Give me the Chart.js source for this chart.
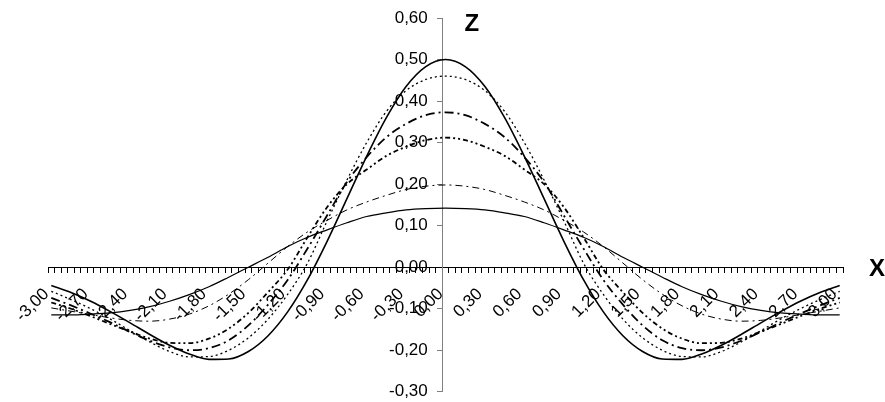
<!DOCTYPE html>
<html lang="ru">
<head>
  <meta charset="UTF-8">
  <meta name="viewport" content="width=device-width, initial-scale=1.0">
  <title>Z(X)</title>
  <style>
    html, body { margin: 0; padding: 0; background: #fff; }
    .chart-box { position: relative; width: 885px; height: 402px; }
  </style>
</head>
<body>
  <div class="chart-box">
    <canvas id="zChart"></canvas>
  </div>

  <script src="https://cdn.jsdelivr.net/npm/chart.js"></script>
  <script>
    // Data, one point every 0.15 along X
    const xPoints = [
      -3.00, -2.85, -2.70, -2.55, -2.40, -2.25, -2.10, -1.95, -1.80, -1.65, -1.50,
      -1.35, -1.20, -1.05, -0.90, -0.75, -0.60, -0.45, -0.30, -0.15, 0.00,
      0.15, 0.30, 0.45, 0.60, 0.75, 0.90, 1.05, 1.20, 1.35, 1.50,
      1.65, 1.80, 1.95, 2.10, 2.25, 2.40, 2.55, 2.70, 2.85, 3.00
    ];

    // solid, peak 0,50
    const zSolidHigh = [
      -0.044, -0.061, -0.082, -0.107, -0.134, -0.162, -0.188, -0.209, -0.222, -0.221, -0.203,
      -0.165, -0.107, -0.030, 0.063, 0.165, 0.267, 0.360, 0.435, 0.483, 0.500,
      0.483, 0.435, 0.360, 0.267, 0.165, 0.063, -0.030, -0.107, -0.165, -0.203,
      -0.221, -0.222, -0.209, -0.188, -0.162, -0.134, -0.107, -0.082, -0.061, -0.044
    ];

    // dotted, peak 0,46
    const zDotted = [
      -0.058, -0.078, -0.100, -0.125, -0.153, -0.180, -0.203, -0.216, -0.215, -0.200, -0.170,
      -0.125, -0.065, 0.010, 0.112, 0.210, 0.300, 0.375, 0.425, 0.452, 0.460,
      0.452, 0.425, 0.375, 0.300, 0.210, 0.112, 0.010, -0.065, -0.125, -0.170,
      -0.200, -0.215, -0.216, -0.203, -0.180, -0.153, -0.125, -0.100, -0.078, -0.058
    ];

    // long dash - dot, peak 0,37
    const zDashDot = [
      -0.074, -0.092, -0.112, -0.133, -0.156, -0.177, -0.193, -0.200, -0.195, -0.176, -0.140,
      -0.090, -0.030, 0.045, 0.125, 0.205, 0.265, 0.313, 0.345, 0.366, 0.373,
      0.366, 0.345, 0.313, 0.265, 0.205, 0.125, 0.045, -0.030, -0.090, -0.140,
      -0.176, -0.195, -0.200, -0.193, -0.177, -0.156, -0.133, -0.112, -0.092, -0.074
    ];

    // dash - dot - dot, peak 0,31
    const zDashDotDot = [
      -0.085, -0.100, -0.118, -0.137, -0.155, -0.172, -0.182, -0.183, -0.172, -0.148, -0.110,
      -0.060, -0.005, 0.072, 0.145, 0.200, 0.235, 0.268, 0.290, 0.306, 0.312,
      0.306, 0.290, 0.268, 0.235, 0.200, 0.145, 0.072, -0.005, -0.060, -0.110,
      -0.148, -0.172, -0.183, -0.182, -0.172, -0.155, -0.137, -0.118, -0.100, -0.085
    ];

    // thin dash - dot, peak 0,20
    const zThinDashDot = [
      -0.098, -0.106, -0.114, -0.122, -0.128, -0.130, -0.125, -0.113, -0.093, -0.065, -0.030,
      0.010, 0.050, 0.085, 0.113, 0.138, 0.157, 0.173, 0.187, 0.195, 0.198,
      0.195, 0.187, 0.173, 0.157, 0.138, 0.113, 0.085, 0.050, 0.010, -0.030,
      -0.065, -0.093, -0.113, -0.125, -0.130, -0.128, -0.122, -0.114, -0.106, -0.098
    ];

    // thin solid, peak 0,14
    const zSolidLow = [
      -0.115, -0.115, -0.113, -0.110, -0.104, -0.095, -0.082, -0.066, -0.047, -0.024, 0.000,
      0.024, 0.050, 0.072, 0.090, 0.107, 0.122, 0.131, 0.138, 0.141, 0.142,
      0.141, 0.138, 0.131, 0.122, 0.107, 0.090, 0.072, 0.050, 0.024, 0.000,
      -0.024, -0.047, -0.066, -0.082, -0.095, -0.104, -0.110, -0.113, -0.115, -0.115
    ];

    const xLabelValues = [
      -3.00, -2.70, -2.40, -2.10, -1.80, -1.50, -1.20, -0.90, -0.60, -0.30, 0.00,
      0.30, 0.60, 0.90, 1.20, 1.50, 1.80, 2.10, 2.40, 2.70, 3.00
    ];
    const yLabelValues = [-0.30, -0.20, -0.10, 0.00, 0.10, 0.20, 0.30, 0.40, 0.50, 0.60];

    // small tick marks on the X axis, one every 0.05
    const xMinorTicks = [];
    for (let i = -60; i <= 60; i++) xMinorTicks.push(i * 0.05);

    const fmt = v => (Math.round(v * 100) / 100).toFixed(2).replace('.', ',');
    const labelFont = { family: '"Liberation Sans", Arial, sans-serif', size: 17 };

    const series = [
      { data: zSolidHigh, width: 1.6, dash: [] },
      { data: zDotted, width: 1.3, dash: [2, 3] },
      { data: zDashDot, width: 1.8, dash: [9, 4, 2, 4] },
      { data: zDashDotDot, width: 1.8, dash: [5, 3, 2, 3, 2, 3] },
      { data: zThinDashDot, width: 1, dash: [7, 4, 2, 4] },
      { data: zSolidLow, width: 1.2, dash: [] }
    ];

    const datasets = series.map(s => ({
      data: xPoints.map((x, i) => ({ x: x, y: s.data[i] })),
      borderColor: '#000',
      borderWidth: s.width,
      borderDash: s.dash,
      pointRadius: 0,
      pointHoverRadius: 0,
      cubicInterpolationMode: 'monotone',
      fill: false
    }));

    // "Z" and "X" next to the axes
    const axisLetters = {
      id: 'axisLetters',
      afterDraw(chart) {
        const { ctx, scales: { x, y }, chartArea } = chart;
        ctx.save();
        ctx.font = 'bold 24px "Liberation Sans", Arial, sans-serif';
        ctx.fillStyle = '#000';
        ctx.textAlign = 'center';
        ctx.textBaseline = 'middle';
        ctx.fillText('Z', x.getPixelForValue(0.2), y.getPixelForValue(0.584));
        ctx.fillText('X', chartArea.right + 34, y.getPixelForValue(0) + 2);
        ctx.restore();
      }
    };

    new Chart(document.getElementById('zChart'), {
      type: 'line',
      data: { datasets: datasets },
      options: {
        responsive: true,
        maintainAspectRatio: false,
        animation: false,
        events: [],
        layout: { padding: { left: 48, right: 42, top: 18, bottom: 10 } },
        plugins: {
          legend: { display: false },
          tooltip: { enabled: false }
        },
        scales: {
          x: {
            type: 'linear',
            min: -3.025,
            max: 3.025,
            position: { y: 0 },
            afterBuildTicks: axis => { axis.ticks = xMinorTicks.map(v => ({ value: v })); },
            afterFit: axis => { axis.height = 0; },
            border: { color: '#000', width: 1 },
            grid: { drawOnChartArea: false, tickLength: 5, tickColor: '#000', offset: true },
            ticks: {
              autoSkip: false,
              minRotation: 45,
              maxRotation: 45,
              padding: 12,
              labelOffset: -5,
              color: '#000',
              font: labelFont,
              callback: v => xLabelValues.some(l => Math.abs(l - v) < 1e-6) ? fmt(v) : ''
            }
          },
          // axis line with its tick marks
          y: {
            type: 'linear',
            min: -0.3,
            max: 0.6,
            position: { x: -0.025 },
            afterBuildTicks: axis => { axis.ticks = yLabelValues.map(v => ({ value: v })); },
            afterFit: axis => { axis.width = 0; },
            border: { color: '#808080', width: 1 },
            grid: { drawOnChartArea: false, tickLength: 5, tickColor: '#808080' },
            ticks: { display: false, padding: 0 }
          },
          // the labels of the Z axis, a little left of the axis line
          yLabels: {
            type: 'linear',
            min: -0.3,
            max: 0.6,
            position: { x: -0.135 },
            afterBuildTicks: axis => { axis.ticks = yLabelValues.map(v => ({ value: v })); },
            afterFit: axis => { axis.width = 0; },
            border: { display: false },
            grid: { display: false },
            ticks: {
              padding: 0,
              color: '#000',
              font: labelFont,
              callback: v => fmt(v)
            }
          }
        }
      },
      plugins: [axisLetters]
    });
  </script>
</body>
</html>
